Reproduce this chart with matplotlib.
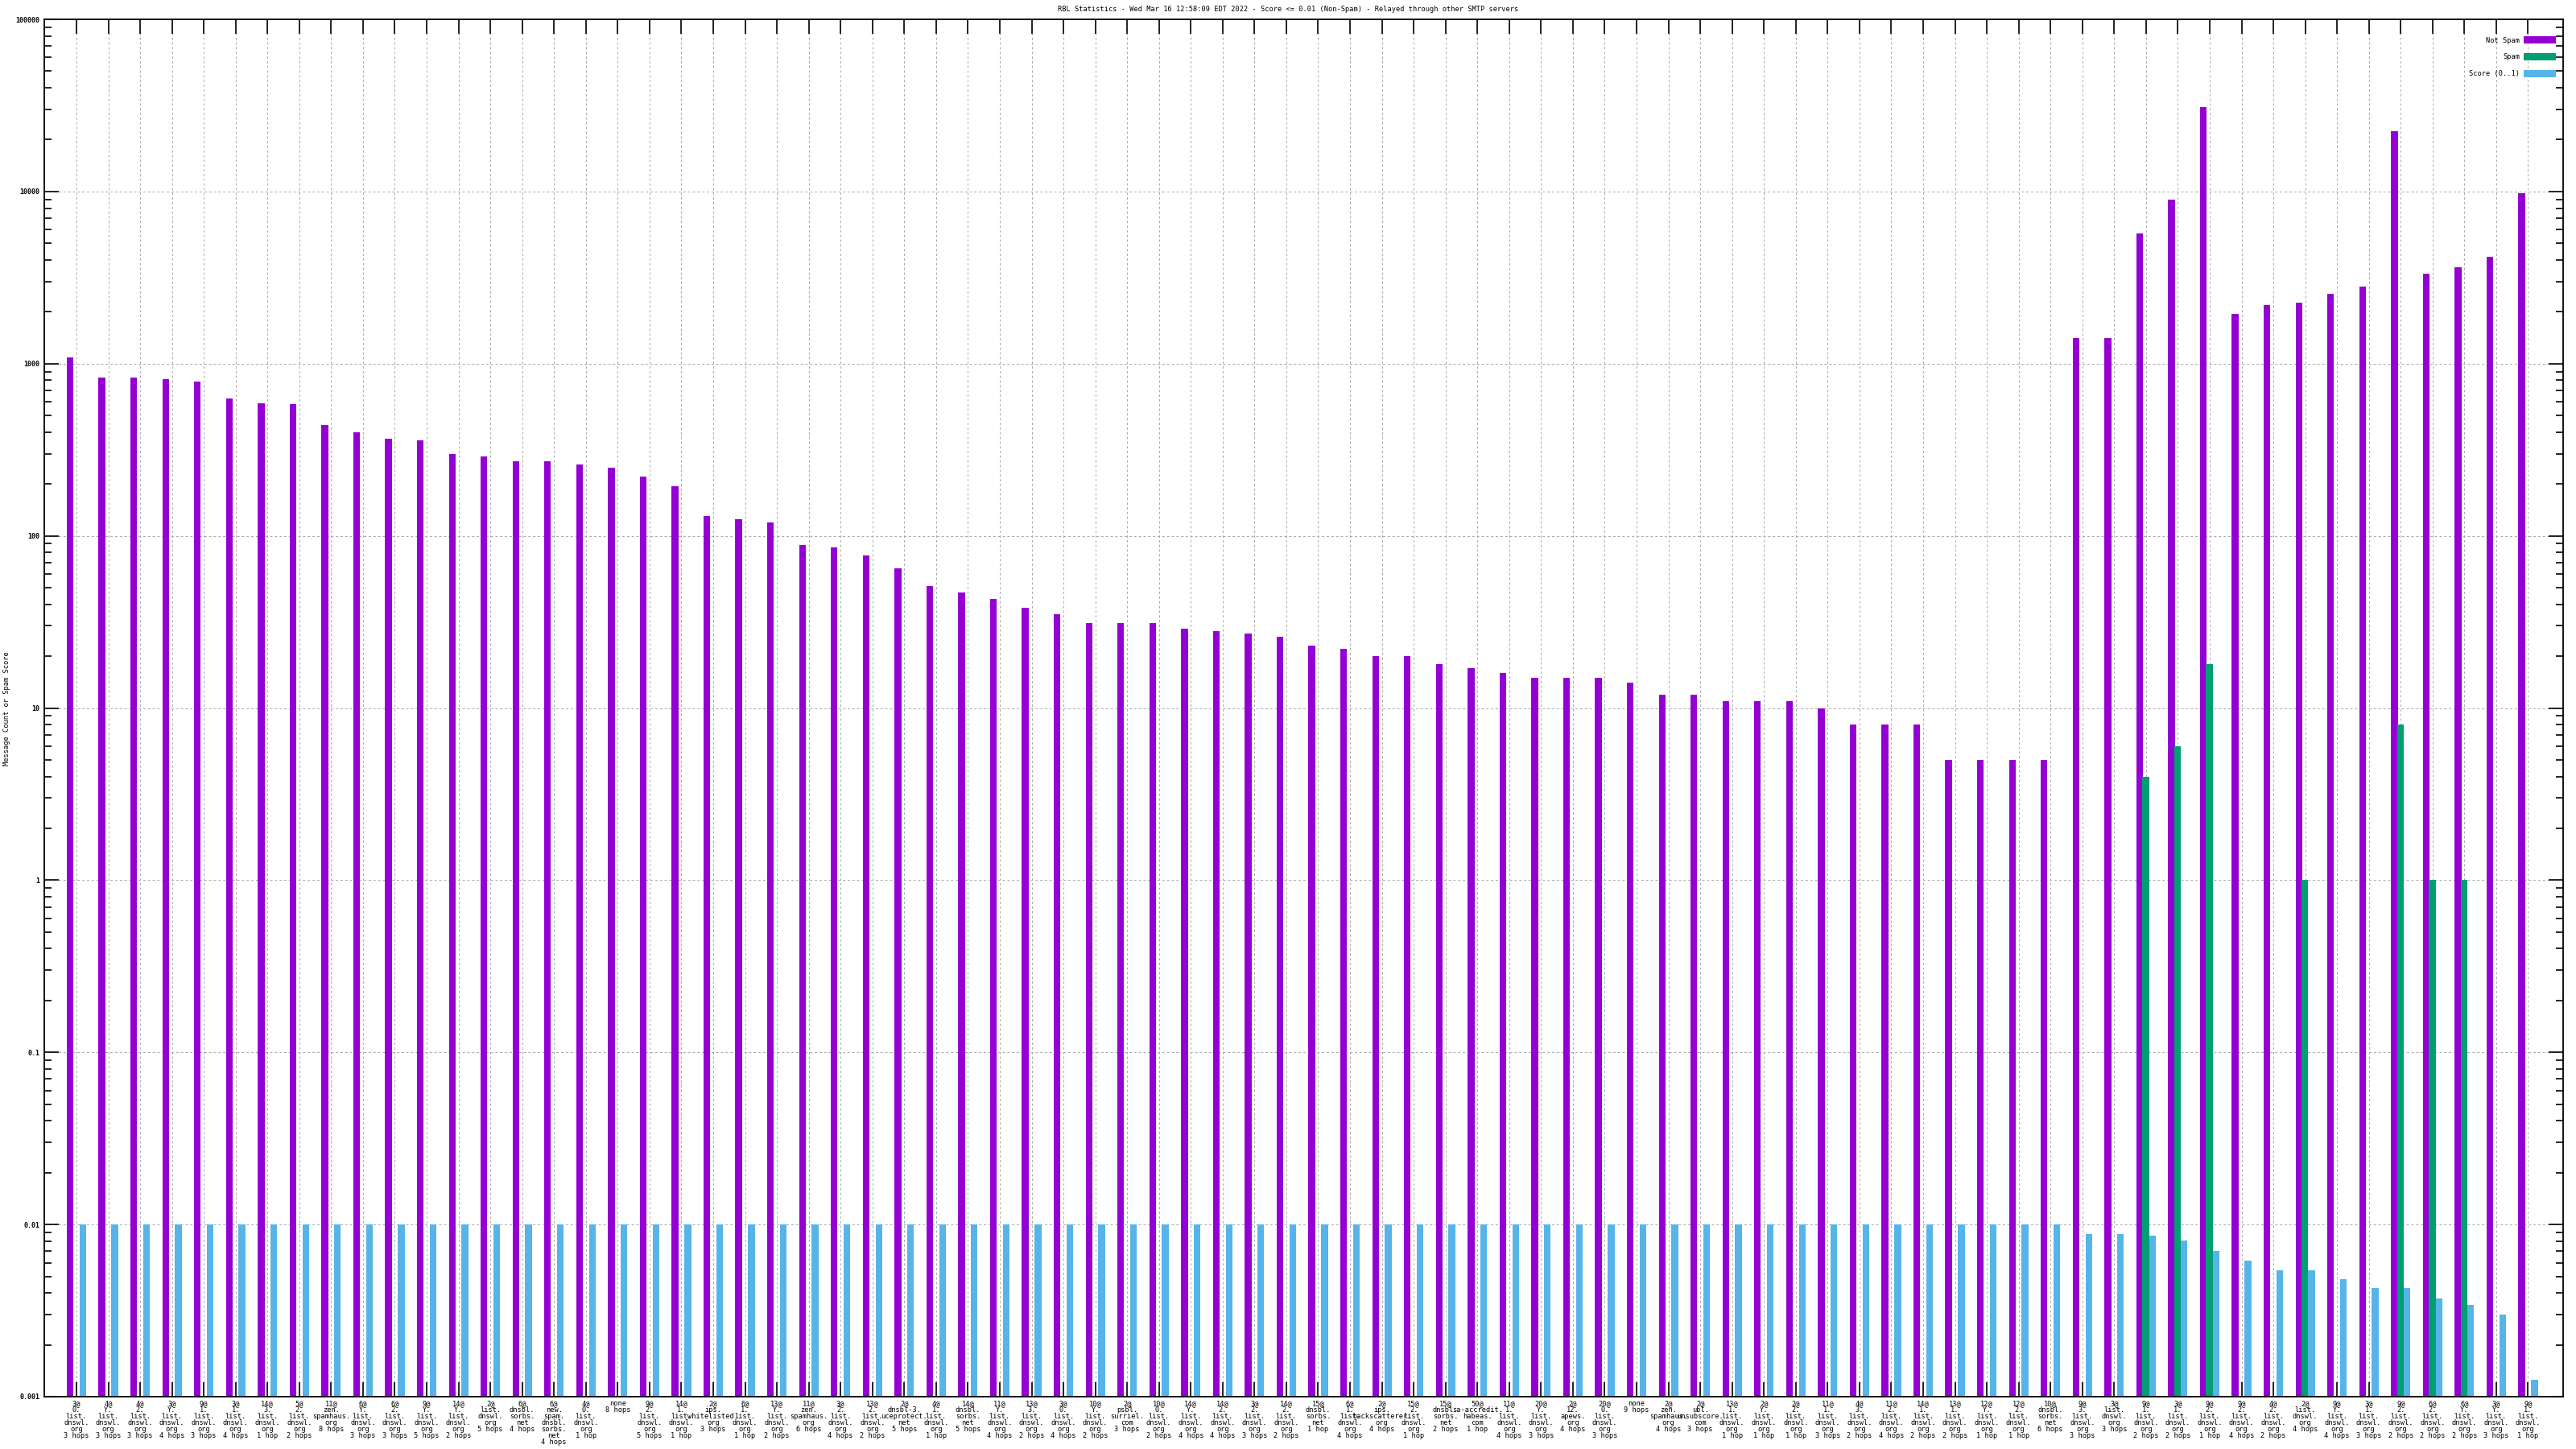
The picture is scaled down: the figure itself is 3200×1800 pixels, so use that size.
import numpy as np
import matplotlib
matplotlib.use('Agg')
import matplotlib.pyplot as plt
from matplotlib.patches import Patch
from matplotlib.ticker import FixedLocator, LogLocator, NullFormatter

# x categories (tick labels)
labels = [
    "3@\n0.\nlist.\ndnswl.\norg\n3 hops", "4@\nY.\nlist.\ndnswl.\norg\n3 hops",
    "4@\n2.\nlist.\ndnswl.\norg\n3 hops", "3@\nY.\nlist.\ndnswl.\norg\n4 hops",
    "9@\n1.\nlist.\ndnswl.\norg\n3 hops", "3@\n1.\nlist.\ndnswl.\norg\n4 hops",
    "14@\n3.\nlist.\ndnswl.\norg\n1 hop", "5@\n2.\nlist.\ndnswl.\norg\n2 hops",
    "11@\nzen.\nspamhaus.\norg\n8 hops", "6@\nY.\nlist.\ndnswl.\norg\n3 hops",
    "6@\n2.\nlist.\ndnswl.\norg\n3 hops", "9@\nY.\nlist.\ndnswl.\norg\n5 hops",
    "14@\nY.\nlist.\ndnswl.\norg\n2 hops", "2@\nlist.\ndnswl.\norg\n5 hops",
    "6@\ndnsbl.\nsorbs.\nnet\n4 hops", "6@\nnew.\nspam.\ndnsbl.\nsorbs.\nnet\n4 hops",
    "4@\n0.\nlist.\ndnswl.\norg\n1 hop", "none\n8 hops",
    "9@\n2.\nlist.\ndnswl.\norg\n5 hops", "14@\n1.\nlist.\ndnswl.\norg\n1 hop",
    "2@\nips.\nwhitelisted.\norg\n3 hops", "6@\n1.\nlist.\ndnswl.\norg\n1 hop",
    "13@\nY.\nlist.\ndnswl.\norg\n2 hops", "11@\nzen.\nspamhaus.\norg\n6 hops",
    "3@\n2.\nlist.\ndnswl.\norg\n4 hops", "13@\n2.\nlist.\ndnswl.\norg\n2 hops",
    "2@\ndnsbl-3.\nuceprotect.\nnet\n5 hops", "4@\n1.\nlist.\ndnswl.\norg\n1 hop",
    "14@\ndnsbl.\nsorbs.\nnet\n5 hops", "11@\nY.\nlist.\ndnswl.\norg\n4 hops",
    "13@\n3.\nlist.\ndnswl.\norg\n2 hops", "3@\n0.\nlist.\ndnswl.\norg\n4 hops",
    "10@\nY.\nlist.\ndnswl.\norg\n2 hops", "2@\npsbl.\nsurriel.\ncom\n3 hops",
    "10@\n0.\nlist.\ndnswl.\norg\n2 hops", "14@\nY.\nlist.\ndnswl.\norg\n4 hops",
    "14@\n2.\nlist.\ndnswl.\norg\n4 hops", "3@\n2.\nlist.\ndnswl.\norg\n3 hops",
    "14@\n2.\nlist.\ndnswl.\norg\n2 hops", "15@\ndnsbl.\nsorbs.\nnet\n1 hop",
    "6@\n1.\nlist.\ndnswl.\norg\n4 hops", "2@\nips.\nbackscatterer.\norg\n4 hops",
    "15@\n2.\nlist.\ndnswl.\norg\n1 hop", "15@\ndnsbl.\nsorbs.\nnet\n2 hops",
    "50@\nsa-accredit.\nhabeas.\ncom\n1 hop", "11@\n1.\nlist.\ndnswl.\norg\n4 hops",
    "20@\nY.\nlist.\ndnswl.\norg\n3 hops", "2@\n12.\napews.\norg\n4 hops",
    "20@\n0.\nlist.\ndnswl.\norg\n3 hops", "none\n9 hops",
    "2@\nzen.\nspamhaus.\norg\n4 hops", "2@\nubl.\nunsubscore.\ncom\n3 hops",
    "13@\n1.\nlist.\ndnswl.\norg\n1 hop", "2@\nY.\nlist.\ndnswl.\norg\n1 hop",
    "2@\n2.\nlist.\ndnswl.\norg\n1 hop", "11@\n1.\nlist.\ndnswl.\norg\n3 hops",
    "4@\n3.\nlist.\ndnswl.\norg\n2 hops", "11@\n2.\nlist.\ndnswl.\norg\n4 hops",
    "14@\n1.\nlist.\ndnswl.\norg\n2 hops", "13@\n1.\nlist.\ndnswl.\norg\n2 hops",
    "12@\nY.\nlist.\ndnswl.\norg\n1 hop", "12@\n2.\nlist.\ndnswl.\norg\n1 hop",
    "10@\ndnsbl.\nsorbs.\nnet\n6 hops", "9@\n3.\nlist.\ndnswl.\norg\n3 hops",
    "3@\nlist.\ndnswl.\norg\n3 hops", "9@\n1.\nlist.\ndnswl.\norg\n2 hops",
    "3@\n1.\nlist.\ndnswl.\norg\n2 hops", "9@\n2.\nlist.\ndnswl.\norg\n1 hop",
    "9@\n2.\nlist.\ndnswl.\norg\n4 hops", "4@\n2.\nlist.\ndnswl.\norg\n2 hops",
    "2@\nlist.\ndnswl.\norg\n4 hops", "9@\nY.\nlist.\ndnswl.\norg\n4 hops",
    "3@\n1.\nlist.\ndnswl.\norg\n3 hops", "9@\n2.\nlist.\ndnswl.\norg\n2 hops",
    "6@\n2.\nlist.\ndnswl.\norg\n2 hops", "6@\nY.\nlist.\ndnswl.\norg\n2 hops",
    "3@\nY.\nlist.\ndnswl.\norg\n3 hops", "9@\n1.\nlist.\ndnswl.\norg\n1 hop",
]

# series values
not_spam = [1090, 830, 830, 810, 790, 630, 590, 580, 440, 400,
            365, 360, 300, 290, 272, 270, 260, 250, 222, 195,
            131, 125, 120, 88, 86, 77, 65, 51, 47, 43,
            38, 35, 31, 31, 31, 29, 28, 27, 26, 23,
            22, 20, 20, 18, 17, 16, 15, 15, 15, 14,
            12, 12, 11, 11, 11, 10, 8, 8, 8, 5,
            5, 5, 5, 1400, 1400, 5700, 9000, 31000, 1950, 2200,
            2250, 2550, 2800, 22500, 3340, 3640, 4170, 9800]

spam = [0] * 65 + [4, 6, 18, 0, 0, 1, 0, 0, 8, 1, 1, 0, 0]

score = [0.01] * 63 + [0.0088, 0.0088, 0.0086, 0.0081, 0.0070, 0.0062, 0.0054,
                       0.0054, 0.0048, 0.0043, 0.0043, 0.0037, 0.0034, 0.0030, 0.00125]

y_ticks = [0.001, 0.01, 0.1, 1, 10, 100, 1000, 10000, 100000]
y_tick_labels = ["0.001", "0.01", "0.1", "1", "10", "100", "1000", "10000", "100000"]

title = ("RBL Statistics - Wed Mar 16 12:58:09 EDT 2022 - Score <= 0.01 (Non-Spam)"
         " - Relayed through other SMTP servers")

c_not = '#9400d3'
c_spam = '#009e73'
c_score = '#56b4e9'

plt.rcParams['font.family'] = ['DejaVu Sans Mono', 'DejaVu Sans']

fig = plt.figure(figsize=(32, 18), dpi=100)
ax = fig.add_axes([55/3200, 1 - 1735/1800, (3184-55)/3200, (1735-24)/1800])

ymin = 0.001
x = np.arange(len(labels))
w = 0.21
ns = np.array(not_spam, dtype=float)
sp = np.array(spam, dtype=float)
sc = np.array(score, dtype=float)

ax.bar(x - 0.2, ns - ymin, w, bottom=ymin, color=c_not, zorder=2)
m = sp > 0
ax.bar(x[m] - 0.01, sp[m] - ymin, w, bottom=ymin, color=c_spam, zorder=2)
ax.bar(x + 0.2, sc - ymin, w, bottom=ymin, color=c_score, zorder=2)

ax.set_yscale('log')
ax.set_ylim(ymin, 100000)
ax.set_xlim(-1.01, 78.1)

ax.yaxis.set_major_locator(FixedLocator(y_ticks))
ax.set_yticklabels(y_tick_labels, fontsize=6, fontweight='bold')
ax.yaxis.set_minor_locator(LogLocator(base=10, subs=np.arange(2, 10)))
ax.yaxis.set_minor_formatter(NullFormatter())

ax.set_xticks(x)
ax.set_xticklabels(labels, fontsize=6.2, linespacing=0.85, va='top')

ax.tick_params(axis='both', which='major', direction='in', length=13, width=1.2,
               top=True, right=True, pad=3)
ax.tick_params(axis='y', which='minor', direction='in', length=6.5, width=1.2,
               right=True)
ax.tick_params(axis='y', which='major', pad=4)
for s in ax.spines.values():
    s.set_linewidth(1.3)

ax.grid(True, which='major', axis='both', color='#a8a8a8', linestyle=(0, (3, 3)),
        linewidth=0.7)
ax.set_axisbelow(True)

# y axis title placed in figure coords, near the left edge
fig.text(9/3200, 1 - 880/1800, 'Message Count or Spam Score', rotation=90,
         ha='center', va='center', fontsize=6.2)
fig.text(0.5, 1 - 12/1800, title, ha='center', va='center', fontsize=6.2)

handles = [Patch(facecolor=c_not), Patch(facecolor=c_spam), Patch(facecolor=c_score)]
ax.legend(handles, ['Not Spam', 'Spam', 'Score (0..1)'], loc='upper right',
          bbox_to_anchor=(3175/3200, 1 - 45/1800), bbox_transform=fig.transFigure,
          frameon=False, markerfirst=False, fontsize=6.2, handlelength=4.7,
          handleheight=1.3, handletextpad=0.5, labelspacing=1.3,
          borderaxespad=0, borderpad=0)

fig.savefig('out.png', dpi=100)
